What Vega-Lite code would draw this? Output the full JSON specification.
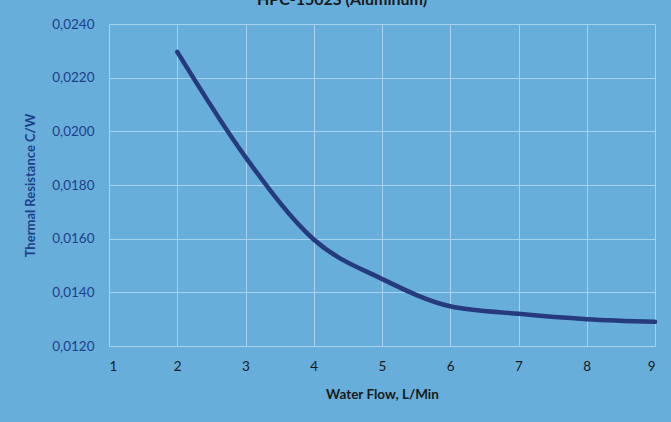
{
  "$schema": "https://vega.github.io/schema/vega-lite/v6.json",
  "autosize": "none",
  "width": 546,
  "height": 322,
  "padding": {"left": 109, "top": 24, "right": 16, "bottom": 76},
  "background": "#67AEDB",
  "title": {"text": "HPC-1502S (Aluminum)", "font": "Lato", "fontSize": 16, "fontWeight": "bold", "color": "#1a1a1a", "offset": 4, "dx": -40, "dy": 11, "anchor": "middle", "baseline": "bottom"},
  "config": {"view": {"stroke": null}},
  "data": {"values": [
    {"flow": 2, "r": 0.02296},
    {"flow": 3, "r": 0.01904},
    {"flow": 4, "r": 0.01597},
    {"flow": 5, "r": 0.01450},
    {"flow": 6, "r": 0.01348},
    {"flow": 7, "r": 0.01320},
    {"flow": 8, "r": 0.01300},
    {"flow": 9, "r": 0.01290}
  ]},
  "mark": {"type": "line", "interpolate": "monotone", "color": "#263A7E", "strokeWidth": 4.5, "strokeCap": "round"},
  "encoding": {
    "x": {"field": "flow", "type": "quantitative",
      "scale": {"domain": [1, 9], "nice": false},
      "axis": {"values": [1,2,3,4,5,6,7,8,9], "title": "Water Flow, L/Min", "titleFont": "Lato", "titleFontSize": 13.5, "titleFontWeight": "bold", "titleColor": "#1a1a1a", "titlePadding": 15,
        "labelFont": "Lato", "labelFontSize": 13.5, "labelColor": "#1a1a1a", "labelPadding": 13,
        "grid": true, "gridColor": "#A9D2EE", "gridWidth": 1, "domain": false, "ticks": false}},
    "y": {"field": "r", "type": "quantitative",
      "scale": {"domain": [0.012, 0.024], "nice": false, "zero": false},
      "axis": {"values": [0.012,0.014,0.016,0.018,0.02,0.022,0.024], "labelExpr": "replace(format(datum.value, '.4f'), '.', ',')",
        "title": "Thermal Resistance C/W", "titleFont": "Lato", "titleFontSize": 13, "titleFontWeight": "bold", "titleColor": "#1F3F8A", "titlePadding": 14,
        "labelFont": "Lato", "labelFontSize": 13.5, "labelColor": "#1F3F8A", "labelPadding": 15,
        "grid": true, "gridColor": "#A9D2EE", "gridWidth": 1, "domain": false, "ticks": false}}
  }
}
